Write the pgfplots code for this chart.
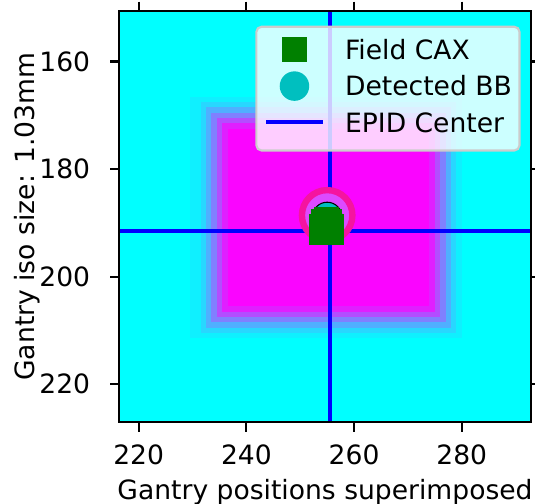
\documentclass[border=0pt]{standalone}
\usepackage{fontspec}
\setmainfont{DejaVu Sans}
\usepackage{pgfplots}
\pgfplotsset{compat=1.18}

\definecolor{bgcyan}{RGB}{0,255,255}
\definecolor{lay6}{RGB}{15,240,255}
\definecolor{lay5}{RGB}{40,215,255}
\definecolor{lay4}{RGB}{80,175,255}
\definecolor{lay3}{RGB}{128,128,255}
\definecolor{lay2}{RGB}{179,77,255}
\definecolor{lay1}{RGB}{224,31,255}
\definecolor{core}{RGB}{250,5,255}
\definecolor{ringred}{RGB}{245,20,160}
\definecolor{ringin}{RGB}{220,75,255}
\definecolor{fcax}{RGB}{0,128,0}
\definecolor{bbcol}{RGB}{0,191,191}
\definecolor{epid}{RGB}{0,0,255}
\definecolor{legedge}{RGB}{204,204,204}

\begin{document}
\begin{tikzpicture}
\begin{axis}[
  name=ax,
  scale only axis,
  width=154.8pt, height=154.8pt,
  xmin=216.4, xmax=292.8,
  ymin=150.6, ymax=227.1,
  y dir=reverse,
  axis on top,
  axis background/.style={fill=bgcyan},
  xtick={220,240,260,280},
  ytick={160,180,200,220},
  minor tick num=0,
  tick align=outside,
  major tick length=3.5pt,
  tick style={black, line width=0.8pt},
  axis line style={black, line width=0.8pt},
  /pgf/number format/assume math mode=true,
  /pgf/number format/1000 sep={},
  xticklabel style={anchor=north, inner sep=0pt, yshift=-4.7pt},
  yticklabel style={anchor=east, inner sep=0pt, xshift=-7.3pt},
  xlabel={Gantry positions superimposed},
  ylabel={Gantry iso size: 1.03mm},
  xlabel style={at={(axis description cs:0.5,-0.1879)}, anchor=base, inner sep=0pt},
  ylabel style={at={(axis description cs:-0.2073,0.5)}, anchor=base, rotate=0, inner sep=0pt},
  title={Gantry wobble},
  title style={at={(axis description cs:0.5,1)}, anchor=base, yshift=5.8pt, inner sep=0pt, font=\fontsize{12}{14}\selectfont},
  legend style={
    at={(axis description cs:1,1)}, anchor=north east,
    xshift=-3.8pt, yshift=-5.5pt,
    draw=legedge, line width=0.8pt, fill=white,
    fill opacity=0.8, draw opacity=1, text opacity=1,
    rounded corners=2pt,
    inner xsep=2.9pt, inner ysep=3pt,
    row sep=2.4pt,
    nodes={inner sep=0pt, anchor=base west},
    /tikz/every odd column/.append style={column sep=7.6pt},
  },
  legend cell align=left,
]

% superimposed field image: nested rectangles from cyan edge to magenta core
\addplot[forget plot, draw=none, fill=lay6] coordinates {(229.5,166.5) (280,166.5) (280,211.5) (229.5,211.5)} -- cycle;
\addplot[forget plot, draw=none, fill=lay5] coordinates {(231.5,167.5) (279,167.5) (279,210.5) (231.5,210.5)} -- cycle;
\addplot[forget plot, draw=none, fill=lay4] coordinates {(232.5,168.5) (278,168.5) (278,209.5) (232.5,209.5)} -- cycle;
\addplot[forget plot, draw=none, fill=lay3] coordinates {(233.5,169.5) (277,169.5) (277,208.5) (233.5,208.5)} -- cycle;
\addplot[forget plot, draw=none, fill=lay2] coordinates {(234.5,170.5) (276,170.5) (276,207.5) (234.5,207.5)} -- cycle;
\addplot[forget plot, draw=none, fill=lay1] coordinates {(235.5,171.5) (275,171.5) (275,206.5) (235.5,206.5)} -- cycle;
\addplot[forget plot, draw=none, fill=core] coordinates {(236.5,172.5) (274,172.5) (274,205.5) (236.5,205.5)} -- cycle;

% BB shadow ring in the image
\addplot[forget plot, only marks, mark=*, mark size=9.5pt,
  mark options={draw=ringred, fill=ringin, line width=2.4pt}] coordinates {(255.0,188.6)};

% EPID center lines
\addplot[forget plot, epid, line width=1.5pt] coordinates {(255.5,150.6) (255.5,227.1)};
\addplot[forget plot, epid, line width=1.5pt] coordinates {(216.4,191.5) (292.8,191.5)};

% detected BB
\addplot[forget plot, only marks, mark=*, mark size=5.55pt,
  mark options={draw=none, fill=bbcol}] coordinates {(255.0,188.9)};

% field CAX, all gantry angles
\addplot[forget plot, only marks, mark=square*, mark size=4.15pt,
  mark options={draw=fcax, fill=fcax, line width=1pt}] coordinates {
  (254.9,189.3) (254.3,189.8) (255.5,189.8)
  (253.9,190.7) (255.9,190.7)
  (253.9,191.8) (254.9,191.8) (255.9,191.8)
};

\addlegendimage{legend image code/.code={
  \path[draw=none, fill=none] (0pt,-2pt) rectangle (21.4pt,9.3pt);
  \fill[fcax, draw=none, fill opacity=1, sharp corners] (6.05pt,-1pt) rectangle (15.35pt,8.3pt);}}
\addlegendentry{Field CAX}
\addlegendimage{legend image code/.code={
  \path[draw=none, fill=none] (0pt,-2pt) rectangle (21.4pt,9.3pt);
  \fill[bbcol, draw=none, fill opacity=1] (10.7pt,3.65pt) circle (5.55pt);}}
\addlegendentry{Detected BB}
\addlegendimage{legend image code/.code={
  \path[draw=none, fill=none] (0pt,-3.9pt) rectangle (21.4pt,9.3pt);
  \draw[epid, draw opacity=1, line width=1.5pt, sharp corners] (0pt,3.65pt) -- (21.4pt,3.65pt);}}
\addlegendentry{EPID Center}
\end{axis}
\pgfresetboundingbox
\path[use as bounding box] ([xshift=-44.9pt,yshift=-30.6pt]ax.south west) rectangle ([xshift=1.62pt,yshift=4.14pt]ax.north east);
\end{tikzpicture}
\end{document}
